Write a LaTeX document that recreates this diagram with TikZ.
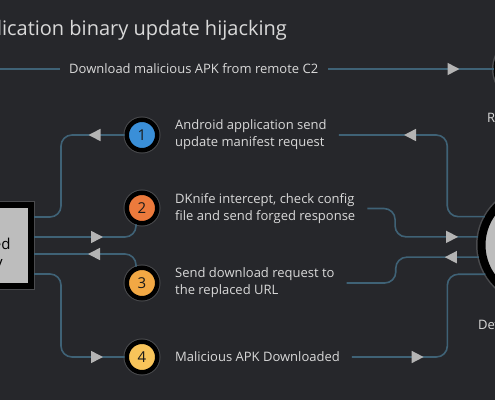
\documentclass[tikz,border=0pt]{standalone}
\usepackage{fontspec}
\setmainfont{Open Sans}
\usetikzlibrary{arrows.meta,decorations.markings}

\definecolor{bgcol}{HTML}{26272B}
\definecolor{wirecol}{HTML}{3F6276}
\definecolor{tipcol}{HTML}{B4B4B4}
\definecolor{txtcol}{HTML}{D9D9D9}
\definecolor{rimcol}{HTML}{4A4B4E}
\definecolor{hostfill}{HTML}{BDBDBD}
\definecolor{one}{HTML}{3A8FD8}
\definecolor{two}{HTML}{EC7A3C}
\definecolor{three}{HTML}{F2A844}
\definecolor{four}{HTML}{F8C45A}

\tikzset{
  wire/.style={draw=wirecol, line width=1.6pt, rounded corners=11pt},
  tipat/.style={postaction={decorate}, decoration={markings,
      mark=at position #1 with {\arrow{Triangle[length=12pt,width=12pt,color=tipcol]}}}},
  plaintext/.style={text=txtcol, inner sep=0pt, font=\fontsize{13}{17}\selectfont},
  steptext/.style={plaintext, anchor=west, align=left},
  titletext/.style={text=txtcol, inner sep=0pt, font=\fontsize{20}{24}\selectfont},
  stepdot/.style={circle, minimum size=30.5pt, inner sep=0pt, draw=black, line width=4.5pt,
      preaction={draw=rimcol, line width=6.5pt}, text=black!90, font=\fontsize{15}{15}\selectfont},
  hostdot/.style={circle, inner sep=0pt, draw=black, fill=hostfill, line width=8pt,
      preaction={draw=rimcol, line width=11pt}},
  boxnode/.style={rectangle, draw=black, fill=hostfill, line width=6pt,
      preaction={draw=rimcol, line width=8pt}},
  boxtext/.style={align=center, text=black, inner sep=0pt, font=\fontsize{15}{18}\selectfont}
}

\begin{document}
\begin{tikzpicture}[x=1pt,y=1pt]
  %%%%% START %%%%%

  \useasboundingbox (0,0) rectangle (495,-400);
  \fill[bgcol] (0,0) rectangle (495,-400);
  \clip (0,0) rectangle (495,-400);

  \node[titletext, anchor=base east] (ttl) at (287,-35) {Application binary update hijacking};

  \node[boxnode, minimum width=124pt, minimum height=81pt] (gw) at (-31,-245.5) {};
  \node[boxtext] (gwl) at (-26,-255) {Controlled\\gateway};
  \node[hostdot, minimum size=59pt] (cc) at (527,-69) {};
  \node[hostdot, minimum size=109pt] (dev) at (536,-245) {};
  \node[plaintext, anchor=west] (ccl) at (487,-118) {Remote C2};
  \node[plaintext, anchor=west] (devl) at (478,-325) {Device};

  \node[stepdot, fill=one] (s1) at (142,-135) {1};
  \node[stepdot, fill=two] (s2) at (142,-208) {2};
  \node[stepdot, fill=three] (s3) at (142,-283) {3};
  \node[stepdot, fill=four] (s4) at (142,-357) {4};

  \node[steptext] (t1) at (175,-135) {Android application send\\update manifest request};
  \node[steptext] (t2) at (175,-208.5) {DKnife intercept, check config\\file and send forged response};
  \node[steptext] (t3) at (175,-283) {Send download request to\\the replaced URL};
  \node[steptext] (t4) at (175,-357) {Malicious APK Downloaded};

  \node[plaintext, anchor=west] (dl) at (69,-69) {Download malicious APK from remote C2};
  \coordinate (far) at (-10,-69);

  % top line
  \draw[wire] (far) -- ([xshift=-9pt]dl.west);
  \draw[wire, tipat=-34pt] ([xshift=10pt]dl.east) -- (cc);

  % gateway side
  \draw[wire, tipat=36pt] (s1.west) -| ([xshift=27pt,yshift=28.5pt]gw.east) -- ([yshift=28.5pt]gw.east);
  \draw[wire, tipat=69pt] ([yshift=8.5pt]gw.east) -| (s2.250);
  \draw[wire, tipat=-54pt] (s3.110) |- ([yshift=-8.5pt]gw.east);
  \draw[wire, tipat=-21.5pt] ([yshift=-28.5pt]gw.east) -- ++(27,0) |- (s4.west);

  % device side
  \draw[wire, tipat=153pt] (dev.151) -- ++(-37.6,0) |- ([xshift=12pt]t1.east);
  \draw[wire, tipat=-20pt] ([xshift=12pt]t2.east) -| ([xshift=-83pt]dev.172) -- (dev.172);
  \draw[wire, tipat=34pt] (dev.192) -- ++(-83,0) |- ([xshift=12pt]t3.east);
  \draw[wire, tipat=-135pt] ([xshift=12pt]t4.east) -| ([xshift=-38pt]dev.210) -- (dev.210);

  %%%%% END %%%%%
\end{tikzpicture}
\end{document}
